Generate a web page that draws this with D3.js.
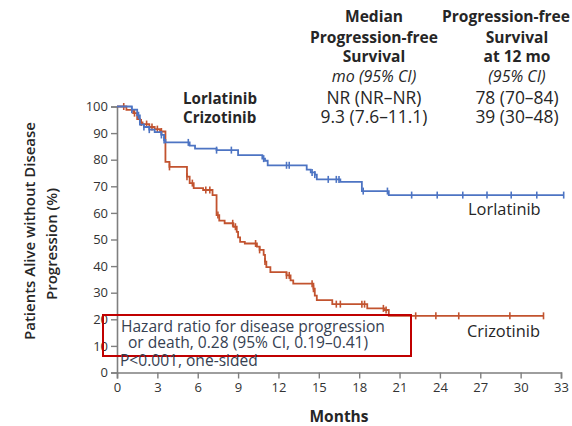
<!DOCTYPE html>
<html>
<head>
<meta charset="utf-8">
<script src="https://cdn.jsdelivr.net/npm/d3@7"></script>
<style>
  html, body { margin: 0; padding: 0; background: #fff; }
  svg { display: block; font-family: "Open Sans", Lato, sans-serif; }
</style>
</head>
<body>
<script>
// Kaplan–Meier progression-free survival: lorlatinib vs crizotinib

// Step points [month, % progression-free] for each arm
const lorlatinibSteps = [
  [0, 100], [1.1, 98.8], [1.5, 96.7], [1.7, 93.2], [2.0, 92.3], [2.4, 91.3],
  [2.8, 90.4], [3.3, 89.3], [3.5, 87.4], [3.6, 86.5], [5.4, 85.3], [5.8, 84.2],
  [7.4, 83.6], [9.0, 81.7], [10.8, 80.4], [11.0, 79.6], [11.2, 77.9],
  [14.1, 76.3], [14.4, 75.2], [14.7, 74.4], [14.85, 72.6], [16.6, 71.7],
  [18.2, 68.2], [20.2, 66.7], [33.2, 66.7]
];
const crizotinibSteps = [
  [0, 100], [0.7, 98.7], [1.2, 97.5], [1.5, 95.3], [1.7, 94.0], [1.9, 93.4],
  [2.4, 92.3], [2.8, 91.5], [3.2, 90.6], [3.6, 79.2], [3.9, 77.3], [5.2, 73.6],
  [5.4, 71.2], [5.7, 69.3], [6.4, 68.6], [7.1, 66.7], [7.4, 59.2], [7.6, 57.1],
  [8.0, 56.1], [8.65, 54.8], [8.9, 52.9], [9.0, 50.8], [9.15, 49.1], [9.5, 48.5],
  [10.4, 47.3], [10.6, 46.1], [10.9, 44.2], [11.0, 41.7], [11.1, 39.6], [11.4, 37.7],
  [12.6, 36.5], [12.9, 34.6], [13.1, 33.4], [14.6, 31.5], [14.7, 28.9], [14.85, 27.2],
  [16.0, 25.7], [18.6, 24.1], [19.9, 23.5], [20.2, 21.3], [31.7, 21.3]
];

// Censoring times (months)
const lorlatinibCensored = [1.1, 1.6, 2.0, 2.4, 3.3, 3.5, 5.3, 7.4, 8.5, 10.9, 12.6, 12.8,
  14.5, 14.7, 15.7, 16.3, 16.5, 18.3, 20.1, 21.9, 23.8, 25.7, 27.5, 29.3, 31.2, 33.2];
const crizotinibCensored = [0.5, 1.3, 1.8, 2.2, 2.6, 3.0, 3.3, 3.9, 5.2, 5.6, 6.6, 6.9, 7.5,
  8.6, 8.8, 10.3, 10.6, 11.0, 12.6, 12.8, 14.5, 14.6, 16.3, 16.6, 18.2, 18.4, 19.8, 20.0,
  22.2, 23.7, 25.4, 29.2, 31.7];

// Axis ticks
const monthTicks = [0, 3, 6, 9, 12, 15, 18, 21, 24, 27, 30, 33];
const percentTicks = [0, 10, 20, 30, 40, 50, 60, 70, 80, 90, 100];

// Summary table
const tableArms = ["Lorlatinib", "Crizotinib"];
const tableMedian = ["NR (NR\u2013NR)", "9.3 (7.6\u201311.1)"];
const tableAt12 = ["78 (70\u201384)", "39 (30\u201348)"];
const medianHeader = ["Median", "Progression-free", "Survival"];
const at12Header = ["Progression-free", "Survival", "at 12 mo"];

const hazardLines = ["Hazard ratio for disease progression", "or death, 0.28 (95% CI, 0.19\u20130.41)"];
const pValueText = "P<0.001, one-sided";

const W = 572, H = 426;
const blue = "#4d74c3", red = "#c2532f", axisGray = "#7f7f7f", ink = "#262626";

const svg = d3.select("body").append("svg").attr("width", W).attr("height", H);

// Font size at which a sample string spans the given width
function sizeFor(text, width, weight, style) {
  const t = svg.append("text").attr("font-size", 20).attr("font-weight", weight || "normal")
    .attr("font-style", style || "normal").text(text);
  const len = t.node().getComputedTextLength();
  t.remove();
  return +(20 * width / len).toFixed(2);
}
const headerSize = sizeFor("Progression-free", 128, "bold");
const armSize = sizeFor("Lorlatinib", 74, "bold");
const valueSize = sizeFor("NR (NR\u2013NR)", 95);
const italicSize = Math.min(sizeFor("mo (95% CI)", 100, "normal", "italic"), 16);
const hazardSize = sizeFor(hazardLines[0], 264);
const labelSize = sizeFor("Crizotinib", 73);
const yTitleSize = sizeFor("Patients Alive without Disease", 218, "600");

const x = d3.scaleLinear().domain([0, 33]).range([117, 561]);
const y = d3.scaleLinear().domain([0, 100]).range([372.5, 106.5]);

// Axes
const xAxis = svg.append("g").attr("transform", `translate(0,${y(0)})`)
  .call(d3.axisBottom(x).tickValues(monthTicks).tickSize(6).tickPadding(4));
const yAxis = svg.append("g").attr("transform", `translate(${x(0)},0)`)
  .call(d3.axisLeft(y).tickValues(percentTicks).tickSize(6).tickPadding(3));
[xAxis, yAxis].forEach(g => {
  g.select(".domain").attr("stroke", axisGray).attr("stroke-width", 1.6);
  g.selectAll(".tick line").attr("stroke", axisGray).attr("stroke-width", 1.4);
  g.selectAll(".tick text").attr("fill", "#333").attr("font-size", 13)
    .attr("font-family", "'Open Sans', sans-serif");
});

// Survival curves
const line = d3.line().x(d => x(d[0])).y(d => y(d[1])).curve(d3.curveStepAfter);

function survivalAt(steps, t) {
  let v = steps[0][1];
  for (const s of steps) { if (s[0] <= t) v = s[1]; }
  return v;
}

function drawArm(steps, censored, color) {
  const g = svg.append("g");
  g.append("path").datum(steps).attr("d", line)
    .attr("fill", "none").attr("stroke", color).attr("stroke-width", 1.8)
    .attr("stroke-linejoin", "miter");
  g.selectAll("line.cens").data(censored).join("line")
    .attr("x1", d => x(d)).attr("x2", d => x(d))
    .attr("y1", d => y(survivalAt(steps, d)) - 3.5)
    .attr("y2", d => y(survivalAt(steps, d)) + 3.5)
    .attr("stroke", color).attr("stroke-width", 1.6);
}
drawArm(crizotinibSteps, crizotinibCensored, red);
drawArm(lorlatinibSteps, lorlatinibCensored, blue);

// Curve labels
svg.append("text").attr("x", 468).attr("y", 215).attr("font-size", labelSize).attr("fill", ink)
  .text("Lorlatinib");
svg.append("text").attr("x", 467).attr("y", 337).attr("font-size", labelSize).attr("fill", ink)
  .text("Crizotinib");

// Axis titles
svg.append("text").attr("x", 339).attr("y", 422).attr("text-anchor", "middle")
  .attr("font-size", 15.5).attr("font-weight", "bold").attr("fill", ink).text("Months");
svg.append("text").attr("transform", "translate(35,231) rotate(-90)")
  .attr("text-anchor", "middle").attr("font-size", yTitleSize).attr("font-weight", "600")
  .attr("fill", ink).text("Patients Alive without Disease");
svg.append("text").attr("transform", "translate(57,244) rotate(-90)")
  .attr("text-anchor", "middle").attr("font-size", yTitleSize).attr("font-weight", "600")
  .attr("fill", ink).text("Progression (%)");

// Hazard ratio box
svg.append("rect").attr("x", 103).attr("y", 315).attr("width", 308).attr("height", 41)
  .attr("fill", "none").attr("stroke", "#c00000").attr("stroke-width", 2);
const hzColor = "#364152";
svg.append("text").attr("x", 121).attr("y", 331.5).attr("font-size", hazardSize).attr("fill", hzColor)
  .text(hazardLines[0]);
svg.append("text").attr("x", 128).attr("y", 347.5).attr("font-size", hazardSize).attr("fill", hzColor)
  .text(hazardLines[1]);
svg.append("text").attr("x", 120).attr("y", 366).attr("font-size", hazardSize).attr("fill", hzColor)
  .text(pValueText);

// Summary table
const col1 = 374, col2 = 517;
const headerBase = [21.5, 43, 61.5];
medianHeader.forEach((t, i) => svg.append("text").attr("x", col1).attr("y", headerBase[i])
  .attr("text-anchor", "middle").attr("font-size", headerSize).attr("font-weight", "bold")
  .attr("fill", ink).text(t));
at12Header.forEach((t, i) => {
  const txt = svg.append("text").attr("y", headerBase[i])
    .attr("font-size", headerSize).attr("font-weight", "bold").attr("fill", ink).text(t);
  // keep the widest header line inside the right edge
  const len = txt.node().getComputedTextLength();
  txt.attr("x", Math.min(col2 - len / 2, W - 2 - len));
});
svg.append("text").attr("x", col1).attr("y", 82).attr("text-anchor", "middle")
  .attr("font-size", italicSize).attr("font-style", "italic").attr("fill", ink).text("mo (95% CI)");
svg.append("text").attr("x", col2).attr("y", 82).attr("text-anchor", "middle")
  .attr("font-size", italicSize).attr("font-style", "italic").attr("fill", ink).text("(95% CI)");
const rowBase = [103.5, 123];
tableArms.forEach((t, i) => {
  svg.append("text").attr("x", 183).attr("y", rowBase[i]).attr("font-size", armSize)
    .attr("font-weight", "bold").attr("fill", ink).text(t);
  svg.append("text").attr("x", col1).attr("y", rowBase[i]).attr("text-anchor", "middle")
    .attr("font-size", valueSize).attr("fill", ink).text(tableMedian[i]);
  svg.append("text").attr("x", col2).attr("y", rowBase[i]).attr("text-anchor", "middle")
    .attr("font-size", valueSize).attr("fill", ink).text(tableAt12[i]);
});
</script>
</body>
</html>
